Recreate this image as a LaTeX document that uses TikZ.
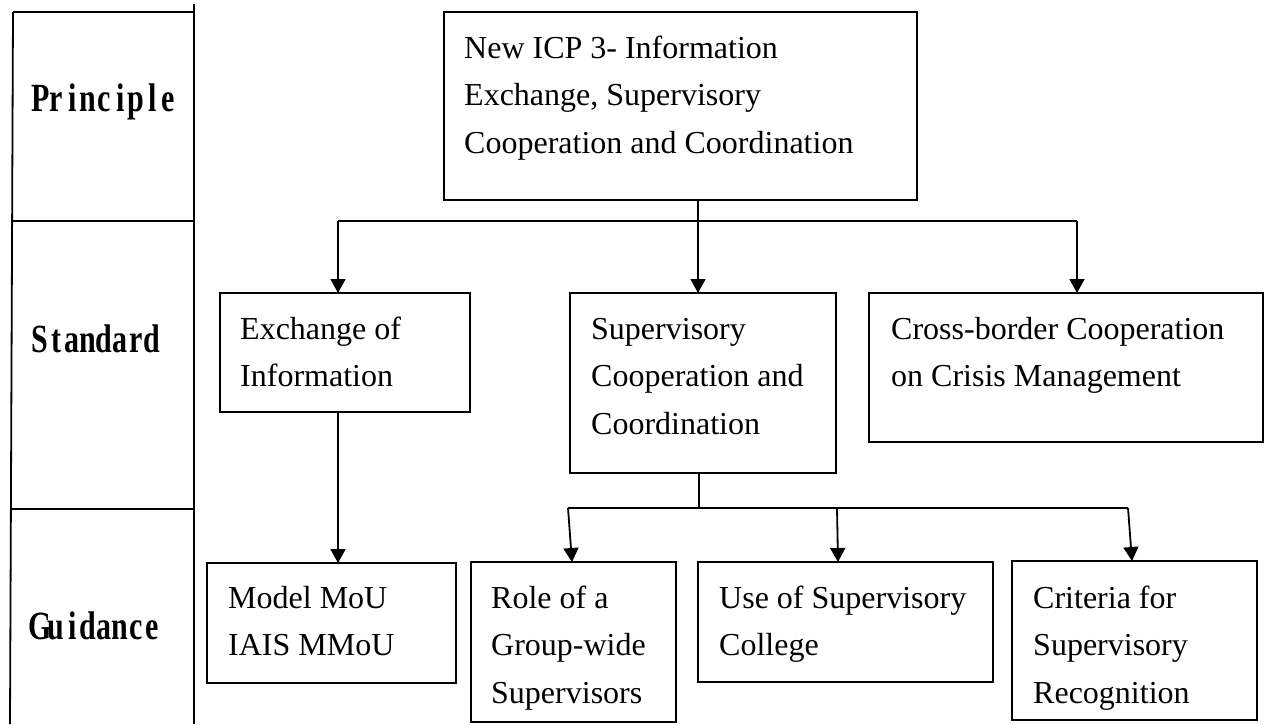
\documentclass[tikz,border=0pt]{standalone}
\usepackage{fontspec}
\setmainfont{Liberation Serif}
% narrow bold serif for the tier names, one fixed cell per letter
\newfontfamily\tierfont[FakeStretch=0.75,UprightFont={* Bold}]{Liberation Serif}
\usetikzlibrary{arrows.meta}

\newcommand\cells[1]{\cellsloop#1\relax}
\def\cellsloop#1{\ifx\relax#1\else\makebox[16pt]{#1}\expandafter\cellsloop\fi}
\newcommand\lines[1]{\parbox[t]{600pt}{\raggedright #1}}

\begin{document}
\begin{tikzpicture}[x=1pt,y=-1pt,
  frame/.style={line width=1.8pt},
  box/.style={draw,line width=1.8pt,rectangle,inner sep=0pt,outer sep=0pt,anchor=north west},
  boxtext/.style={anchor=base west,inner sep=0pt,font=\fontsize{32}{47.5}\selectfont},
  tier/.style={anchor=base west,inner sep=0pt,font=\tierfont\fontsize{40}{40}\selectfont},
  link/.style={line width=1.8pt},
  arr/.style={link,-{Triangle[width=15pt,length=14pt]}}]

\useasboundingbox (0,0) rectangle (1277,724);

% tier column
\draw[frame] (13,12) -- (10,724);
\draw[frame] (194,4) -- (194,724);
\draw[frame] (13,12) -- (194,12);
\draw[frame] (12.5,221) -- (194,221);
\draw[frame] (11.5,509) -- (194,509);
\node[tier] (tprin) at (32,111) {\cells{Principle}};
\node[tier] (tstan) at (32,352) {\cells{Standard}};
\node[tier] (tguid) at (32,639) {\cells{Guidance}};

% boxes
\node[box,minimum width=473pt,minimum height=188pt] (top)   at (444,12)  {};
\node[box,minimum width=250pt,minimum height=119pt] (exch)  at (220,293)  {};
\node[box,minimum width=266pt,minimum height=180pt] (sup)   at (570,293)  {};
\node[box,minimum width=394pt,minimum height=149pt] (cross) at (869,293)  {};
\node[box,minimum width=249pt,minimum height=120pt] (model) at (207,563)  {};
\node[box,minimum width=205pt,minimum height=160pt] (role)  at (471,562)  {};
\node[box,minimum width=295pt,minimum height=120pt] (use)   at (698,562)  {};
\node[box,minimum width=245pt,minimum height=159pt] (crit)  at (1012,561) {};

% box texts
\node[boxtext] (toptxt)   at (464,58)   {\lines{New ICP 3- Information\\Exchange, Supervisory\\Cooperation and Coordination}};
\node[boxtext] (exchtxt)  at (240,339)  {\lines{Exchange of\\Information}};
\node[boxtext] (suptxt)   at (591,339)  {\lines{Supervisory\\Cooperation and\\Coordination}};
\node[boxtext] (crosstxt) at (891,339)  {\lines{Cross-border Cooperation\\on Crisis Management}};
\node[boxtext] (modeltxt) at (228,608)  {\lines{Model MoU\\IAIS MMoU}};
\node[boxtext] (roletxt)  at (491,608)  {\lines{Role of a\\Group-wide\\Supervisors}};
\node[boxtext] (usetxt)   at (719,608)  {\lines{Use of Supervisory\\College}};
\node[boxtext] (crittxt)  at (1033,608) {\lines{Criteria for\\Supervisory\\Recognition}};

% principle -> standards
\coordinate (j1) at (698,221);
\coordinate (a1) at (338,221);
\coordinate (a3) at (1077,221);
\draw[link] ([xshift=17.5pt]top.south) -- (j1);
\draw[link] (a1) -- (a3);
\draw[arr] (a1) -- ([xshift=-7pt]exch.north);
\draw[arr] (j1) -- ([xshift=-5pt]sup.north);
\draw[arr] (a3) -- ([xshift=11pt]cross.north);

% standards -> guidance
\draw[arr] ([xshift=-7pt]exch.south) -- ([xshift=6.5pt]model.north);
\coordinate (j2) at (699,508);
\coordinate (b1) at (568,508);
\coordinate (b2) at (837,508);
\coordinate (b3) at (1128,508);
\draw[link] ([xshift=-4pt]sup.south) -- (j2);
\draw[link] (b1) -- (b3);
\draw[arr] (b1) -- ([xshift=-1.5pt]role.north);
\draw[arr] (b2) -- ([xshift=-7.5pt]use.north);
\draw[arr] (b3) -- ([xshift=-2.5pt]crit.north);
\end{tikzpicture}
\end{document}
